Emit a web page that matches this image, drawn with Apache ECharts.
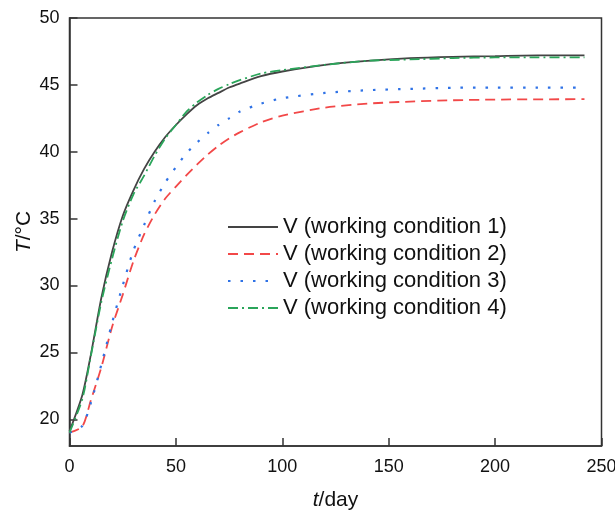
<!DOCTYPE html>
<html>
<head>
<meta charset="utf-8">
<script src="https://cdn.jsdelivr.net/npm/echarts@6/dist/echarts.min.js"></script>
<style>
  html, body { margin: 0; padding: 0; background: #fff; }
  #chart { width: 615px; height: 511px; }
</style>
</head>
<body>
<div id="chart"></div>
<script>
  // time (day) and temperature readings for each working condition
  var days = [0, 6, 10, 15, 20, 25, 30, 35, 40, 45, 50, 55, 60, 65, 70, 75, 80, 90, 100, 120, 140, 160, 180, 200, 220, 242]
  var cond1 = [19.1, 21.8, 24.8, 29.1, 32.5, 35.2, 37.1, 38.7, 40.0, 41.1, 42.0, 42.8, 43.5, 44.0, 44.4, 44.8, 45.1, 45.65, 46.0, 46.5, 46.8, 47.0, 47.1, 47.15, 47.2, 47.2]
  var cond2 = [19.0, 19.45, 21.4, 23.9, 26.9, 29.3, 31.8, 33.8, 35.3, 36.5, 37.4, 38.25, 39.05, 39.8, 40.45, 41.0, 41.45, 42.2, 42.7, 43.3, 43.6, 43.75, 43.85, 43.9, 43.92, 43.93]
  var cond3 = [19.0, 19.5, 21.2, 24.1, 27.2, 30.0, 32.6, 34.5, 36.3, 37.7, 38.85, 39.9, 40.7, 41.4, 42.0, 42.5, 43.0, 43.6, 44.0, 44.4, 44.6, 44.7, 44.78, 44.8, 44.8, 44.8]
  var cond4 = [19.0, 21.5, 24.7, 28.8, 32.0, 34.8, 36.8, 38.2, 39.7, 41.0, 42.0, 43.0, 43.7, 44.25, 44.7, 45.05, 45.35, 45.85, 46.1, 46.5, 46.8, 46.9, 47.0, 47.05, 47.05, 47.05]
  var names = ['V (working condition 1)', 'V (working condition 2)', 'V (working condition 3)', 'V (working condition 4)']
  var xTicks = [0, 50, 100, 150, 200, 250]

  var font = 'Liberation Sans, Arial, sans-serif'

  function pairs(vals) {
    var out = []
    for (var i = 0; i < days.length; i++) {
      out.push([days[i], vals[i]])
    }
    return out
  }

  var styles = [
    { color: '#444444', type: 'solid', width: 1.8 },
    { color: '#f24848', type: [10, 6], width: 1.8 },
    { color: '#2f72e6', type: [2.5, 10], width: 2.2 },
    { color: '#2aa55a', type: [10, 4, 2, 4], width: 1.8 }
  ]
  var allData = [cond1, cond2, cond3, cond4]

  var series = []
  for (var k = 0; k < allData.length; k++) {
    series.push({
      name: names[k],
      type: 'line',
      symbol: 'none',
      smooth: 0.25,
      lineStyle: { color: styles[k].color, type: styles[k].type, width: styles[k].width },
      itemStyle: { color: styles[k].color },
      data: pairs(allData[k])
    })
  }

  var chart = echarts.init(document.getElementById('chart'))
  chart.setOption({
    backgroundColor: '#fff',
    animation: false,
    grid: {
      left: 69.5, right: 13.5, top: 18, bottom: 65,
      outerBoundsMode: 'none',
      show: true, borderColor: '#333', borderWidth: 1.5, backgroundColor: 'transparent'
    },
    legend: {
      orient: 'vertical',
      left: 222,
      top: 211,
      itemWidth: 50,
      itemHeight: 12,
      itemGap: 5,
      itemStyle: { opacity: 0 },
      textStyle: { fontFamily: font, fontSize: 22, color: '#111' },
      data: names
    },
    xAxis: {
      type: 'value',
      min: 0, max: 250, interval: 50,
      name: '{i|t}/day',
      nameLocation: 'middle',
      nameGap: 44,
      nameTextStyle: {
        fontFamily: font, fontSize: 21, color: '#111',
        rich: { i: { fontStyle: 'italic', fontFamily: font, fontSize: 21, color: '#111' } }
      },
      axisLine: { lineStyle: { color: '#333', width: 1.5 } },
      axisTick: { inside: true, length: 8, lineStyle: { color: '#333', width: 1.5 } },
      splitLine: { show: false },
      axisLabel: {
        fontFamily: font, fontSize: 18, color: '#111', margin: 12,
        formatter: function (v) { return xTicks.indexOf(v) >= 0 ? String(v) : '' }
      }
    },
    yAxis: {
      type: 'value',
      min: 18, max: 50,
      splitNumber: 7,
      name: '{i|T}/°C',
      nameLocation: 'middle',
      nameGap: 35,
      nameMoveOverlap: false,
      nameTextStyle: {
        fontFamily: font, fontSize: 21, color: '#111',
        rich: { i: { fontStyle: 'italic', fontFamily: font, fontSize: 21, color: '#111' } }
      },
      axisLine: { show: true, lineStyle: { color: '#333', width: 1.5 } },
      axisTick: { show: true, inside: true, length: 8, lineStyle: { color: '#333', width: 1.5 } },
      splitLine: { show: false },
      axisLabel: {
        fontFamily: font, fontSize: 18, color: '#111', margin: 10,
        showMinLabel: false,
        formatter: function (v) { return v % 5 === 0 ? String(v) : '' }
      }
    },
    series: series
  })
</script>
</body>
</html>
